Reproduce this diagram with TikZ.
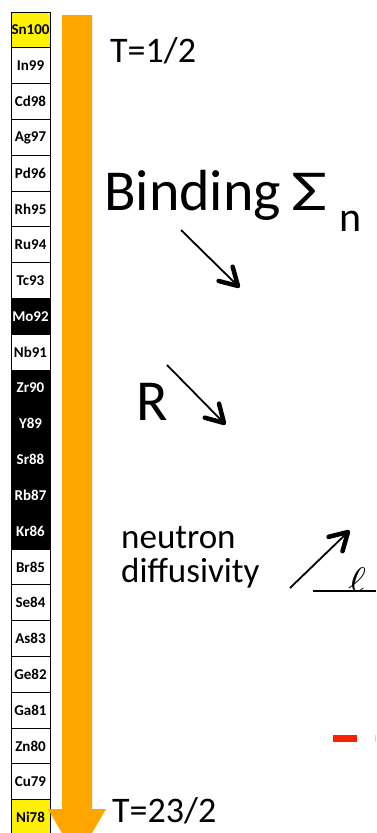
\documentclass[tikz,border=0pt]{standalone}
\usepackage{fontspec}
\setmainfont{Carlito}
\usetikzlibrary{calc}
\definecolor{arrorange}{RGB}{255,165,0}
\definecolor{dashred}{RGB}{255,32,0}
\tikzset{
  elem/.style={draw=black, line width=0.9pt, minimum width=39pt, minimum height=35.8pt,
    inner sep=0pt, font=\fontsize{15}{16}\selectfont\bfseries},
  bigtext/.style={anchor=base west, inner sep=0pt},
  shaft/.style={line width=1.8pt},
  barb/.style={line width=4.5pt, line cap=round, line join=round}
}
\newcommand{\myptr}[2]{%
  \draw[shaft] (#1) -- (#2);
  \draw[barb] ($(#2)!20pt!-30:(#1)$) -- (#2) -- ($(#2)!20pt!30:(#1)$);
}
\begin{document}
\begin{tikzpicture}[x=1pt,y=-1pt]
\useasboundingbox (0,0) rectangle (376,833);
\begin{scope}
\clip (0,0) rectangle (376,833);
% element column
\foreach [count=\i from 0] \lab/\fc/\tc in {
  Sn100/yellow/black, In99/white/black, Cd98/white/black, Ag97/white/black,
  Pd96/white/black, Rh95/white/black, Ru94/white/black, Tc93/white/black,
  Mo92/black/white, Nb91/white/black, Zr90/black/white, Y89/black/white,
  Sr88/black/white, Rb87/black/white, Kr86/black/white, Br85/white/black,
  Se84/white/black, As83/white/black, Ge82/white/black, Ga81/white/black,
  Zn80/white/black, Cu79/white/black, Ni78/yellow/black} {
  \node[elem, fill=\fc, text=\tc] (b\i) at (30.5, 30+\i*35.8) {\lab};
}
% big orange arrow
\fill[arrorange] (62,15) -- (92,15) -- (92,809) -- (106,809) -- (77,859)
  -- (48,809) -- (62,809) -- cycle;
% red dash
\fill[dashred] (333,735) rectangle (357,742);
\fill[dashred!25] (375,735) rectangle (376,742);
\end{scope}
% texts
\node[bigtext, font=\fontsize{36}{40}\selectfont] (ttop) at (110,62) {T=1/2};
\node[bigtext, font=\fontsize{36}{40}\selectfont] (tbot) at (112,822) {T=23/2};
\node[bigtext, font=\fontsize{58}{60}\selectfont] (bind) at (104,210) {Binding};
\node[bigtext, font=\fontsize{58}{60}\selectfont] (sig) at (291,210) {\scalebox{1.35}[1]{Σ}};
\node[bigtext, font=\fontsize{42}{44}\selectfont] (sub) at (339,231) {n};
\node[bigtext, font=\fontsize{58}{60}\selectfont] (r) at (136,420) {R};
\node[bigtext, font=\fontsize{35}{36}\selectfont] (neu) at (121,548) {neutron};
\node[bigtext, font=\fontsize{35}{36}\selectfont] (dif) at (121,582) {diffusivity};
\node[bigtext] (ell) at (348,591) {\scalebox{4.3}[3.4]{$\ell$}};
% arrows
\coordinate (a1s) at (181,230); \coordinate (a1e) at (238,286);
\coordinate (a2s) at (167,365); \coordinate (a2e) at (224,423);
\coordinate (a3s) at (290,588); \coordinate (a3e) at (348,532);
\coordinate (ls) at (313,591); \coordinate (le) at (376,591);
\myptr{a1s}{a1e}
\myptr{a2s}{a2e}
\myptr{a3s}{a3e}
\draw[shaft] (ls) -- (le);
\end{tikzpicture}
\end{document}
